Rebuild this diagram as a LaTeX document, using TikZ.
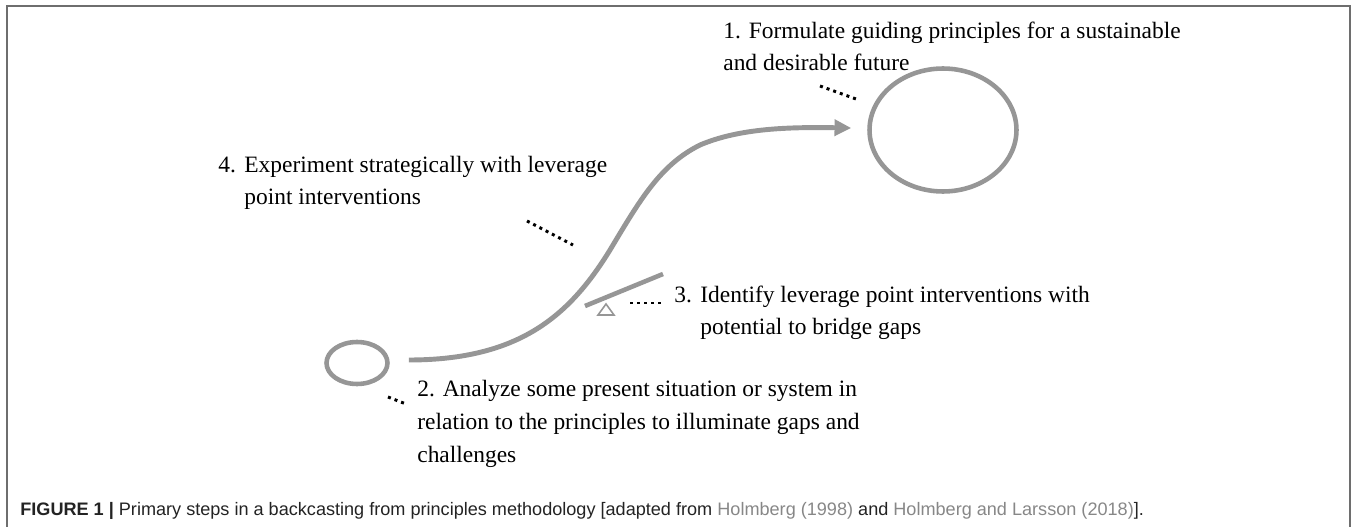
\documentclass[tikz,border=0pt]{standalone}
\usepackage{fontspec}
\setmainfont{Liberation Serif}
\setsansfont{Liberation Sans}
\usepackage{tikz}
\usetikzlibrary{arrows.meta, shapes.geometric}

\definecolor{linegray}{RGB}{150,150,150}
\definecolor{framegray}{RGB}{110,110,110}
\definecolor{citegray}{RGB}{135,135,135}
\definecolor{captext}{RGB}{35,35,35}
\newcommand{\stepnum}[1]{\makebox[0.52cm][l]{#1}}

\begin{document}
\begin{tikzpicture}[x=0.02cm, y=-0.02cm,
  steptext/.style={anchor=base west, align=left, inner sep=0pt,
                   font=\fontsize{13.35}{18.6}\selectfont},
  ring/.style={ellipse, draw=linegray, line width=2.6pt, inner sep=0pt},
  flow/.style={draw=linegray, line width=2.8pt, -{Triangle[length=9.5pt,width=9pt]}},
  leader/.style={draw=black, line width=1.7pt, dash pattern=on 1.7pt off 2.3pt}]
\useasboundingbox (0,0) rectangle (1357,527);
\draw[framegray, line width=1.1pt] (7,527) |- (1350,6) -- (1350,527);

% present and future
\node[ring, minimum width=1.22cm, minimum height=0.84cm] (present) at (357,363) {};
\node[ring, minimum width=2.94cm, minimum height=2.46cm] (future) at (943,130) {};

% path towards the future
\draw[flow] ([xshift=0.38cm, yshift=0.06cm]present.east)
    .. controls (520,360) and (570,315) .. (610,250)
    .. controls (640,200) and (660,165) .. (700,145)
    .. controls (740,128) and (790,127) .. ([xshift=-0.32cm, yshift=0.04cm]future.west);

% lever and fulcrum
\draw[linegray, line width=2.6pt] (585,306) -- (663,274);
\draw[linegray, line width=0.9pt] (598,315) -- (606,304) -- (614,315) -- cycle;

% step labels (base = last line)
\node[steptext] (step1) at (723,71) {1. Formulate guiding principles for a sustainable\\and desirable future};
\node[steptext] (step4) at (218,205) {\stepnum{4.}Experiment strategically with leverage\\\hspace*{0.52cm}point interventions};
\node[steptext] (step3) at (674,335) {\stepnum{3.}Identify leverage point interventions with\\\hspace*{0.52cm}potential to bridge gaps};
\node[steptext] (step2) at (417,462) {2. Analyze some present situation or system in\\relation to the principles to illuminate gaps and\\challenges};

\draw[leader] (820,86) -- (856,99);
\draw[leader] (527,221) -- (573,245);
\draw[leader] (630,303) -- (662,303);
\draw[leader] (388,397) -- (406,404);

\node[anchor=base west, inner sep=0pt, text=captext,
      font=\sffamily\fontsize{10.3}{12}\selectfont] (caption) at (20,515)
  {\textbf{FIGURE 1 |} Primary steps in a backcasting from principles methodology [adapted from \textcolor{citegray}{Holmberg (1998)} and \textcolor{citegray}{Holmberg and Larsson (2018)}].};
\end{tikzpicture}
\end{document}
